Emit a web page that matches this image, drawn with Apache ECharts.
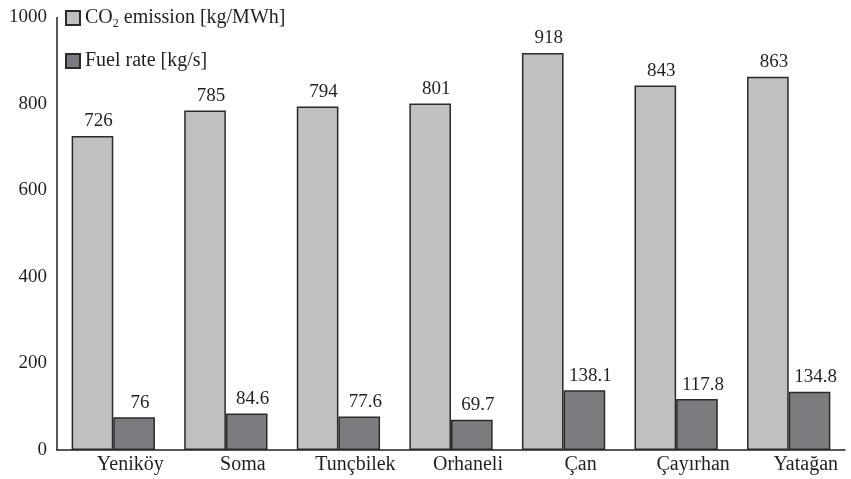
<!DOCTYPE html>
<html><head><meta charset="utf-8">
<script src="https://cdn.jsdelivr.net/npm/echarts@6/dist/echarts.min.js"></script>
<style>html,body{margin:0;padding:0;background:#fff}#c{width:851px;height:479px}</style>
</head><body><div id="c"></div>
<script>
const categories = ['Yeniköy','Soma','Tunçbilek','Orhaneli','Çan','Çayırhan','Yatağan'];
const co2Emission = [726, 785, 794, 801, 918, 843, 863];
const fuelRate = [76, 84.6, 77.6, 69.7, 138.1, 117.8, 134.8];
const yTicks = [0, 200, 400, 600, 800, 1000];

const font = 'Liberation Serif';
const ink = '#231f20';
const chart = echarts.init(document.getElementById('c'));
const labelStyle = {show: true, position: 'top', distance: 5, offset: [6, 0], fontFamily: font, fontSize: 19, color: ink};
chart.setOption({
  animation: false,
  textStyle: {fontFamily: font},
  grid: {left: 57, right: 6, top: 17.5, bottom: 29},
  legend: {
    orient: 'vertical', left: 60, top: 3, itemWidth: 14, itemHeight: 14, itemGap: 21,
    icon: 'rect',
    textStyle: {fontFamily: font, fontSize: 20, color: ink,
      rich: {s: {fontFamily: font, fontSize: 12, color: ink, verticalAlign: 'bottom', padding: [12, 0, 0, 0]}}},
    formatter: function (n) {
      return n === 'CO2 emission [kg/MWh]' ? 'CO{s|2} emission [kg/MWh]' : n;
    }
  },
  xAxis: {
    type: 'category', data: categories,
    axisLine: {lineStyle: {color: ink, width: 1.5}},
    axisTick: {show: false},
    axisLabel: {fontFamily: font, fontSize: 20, color: ink, margin: 5, padding: [0, 0, 0, 34]}
  },
  yAxis: {
    type: 'value', min: 0, max: 1000, interval: 200,
    axisLine: {show: true, lineStyle: {color: ink, width: 1.5}},
    axisTick: {show: false},
    splitLine: {show: false},
    axisLabel: {fontFamily: font, fontSize: 19, color: ink, margin: 10,
      formatter: v => yTicks.includes(v) ? String(v) : ''}
  },
  series: [
    {name: 'CO2 emission [kg/MWh]', type: 'bar', data: co2Emission, barGap: '0%', barCategoryGap: '26%',
     itemStyle: {color: '#c0c0c3', borderColor: '#2a2a2a', borderWidth: 1.5},
     label: labelStyle},
    {name: 'Fuel rate [kg/s]', type: 'bar', data: fuelRate,
     itemStyle: {color: '#7c7c80', borderColor: '#2a2a2a', borderWidth: 1.5},
     label: labelStyle}
  ]
});
</script></body></html>
